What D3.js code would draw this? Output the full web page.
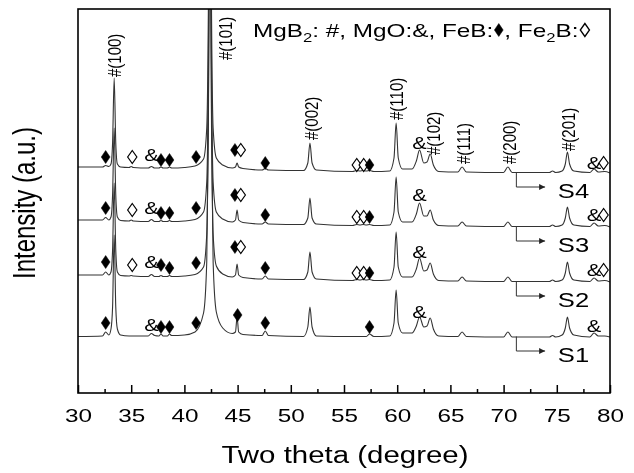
<!DOCTYPE html>
<html>
<head>
<meta charset="utf-8">
<script src="https://cdn.jsdelivr.net/npm/d3@7"></script>
<style>
body { margin: 0; background: #fff; }
text { font-family: "Liberation Sans", Arial, sans-serif; fill: #000; }
svg { filter: grayscale(100%); }
</style>
</head>
<body>
<script>

var width = 634;
var height = 473;
var sx = 1.28; // the lettering in the original is stretched sideways

// 2theta grid (degree) shared by the four patterns
var twoTheta = [30.0, 32.3, 32.6, 32.9, 33.1, 33.25, 33.4, 33.55, 33.7, 34.0,
  34.8, 35.0, 35.2, 36.6, 36.9, 37.2, 37.6, 37.8, 38.0, 38.4,
  38.6, 38.8, 40.0, 41.0, 41.8, 42.1, 42.25, 42.4, 42.55, 42.7,
  43.0, 43.6, 44.5, 44.8, 44.95, 45.1, 45.5, 47.3, 47.6, 47.9,
  51.2, 51.6, 51.8, 52.0, 52.4, 55.8, 56.2, 56.5, 56.8, 57.1,
  57.4, 57.8, 59.3, 59.7, 59.9, 60.1, 60.5, 61.4, 61.8, 62.1,
  62.5, 62.8, 63.1, 63.4, 63.9, 65.7, 66.1, 66.5, 70.0, 70.4,
  70.8, 74.3, 74.6, 74.9, 75.5, 75.8, 76.0, 76.2, 76.6, 78.1,
  78.5, 78.9, 79.5, 80.0];

// intensity (a.u.) of each pattern above its own base level
var intensityS1 = [0.5, 1, 5, 2, 8, 30, 102, 30, 8, 2,
  1, 1, 1, 1, 3.5, 1.5, 1, 3, 1, 1,
  3, 1.5, 2, 5, 24, 75, 210, 450, 210, 75,
  25, 9, 3.5, 5, 20, 5, 2.5, 1.5, 6, 1.5,
  0.5, 10, 30, 10, 1, 0.5, 0.5, 0.5, 0.5, 0.5,
  3, 0.5, 1, 14, 47, 14, 4, 4, 11, 20,
  10, 11, 19, 8, 1, 0.5, 5, 0.5, 0, 5,
  0, 0, 1.5, 0, 2, 9, 20, 9, 2, 0,
  4, 1, 1, 0];
var intensityS2 = [7, 7, 10, 7, 10, 32, 99, 32, 10, 6.5,
  6, 6.5, 6, 5.5, 7.5, 5.5, 5.5, 6.5, 5.5, 5.5,
  6.5, 5.5, 6, 7.5, 15, 48, 170, 450, 170, 48,
  16, 8, 5, 7, 18, 7, 4.5, 3, 6, 3,
  2.5, 10, 30, 10, 3, 1.5, 2.5, 2, 2.5, 2,
  2.5, 1.5, 2, 15, 50, 15, 5, 5, 13, 24,
  11, 12, 19, 8, 1.5, 1, 5, 1, 0.5, 5,
  0.5, 0.5, 2, 0.5, 2, 9, 20, 9, 2, 0.5,
  4, 1, 1.5, 0];
var intensityS3 = [7, 7, 9.5, 7, 10, 32, 99, 32, 10, 6.5,
  6, 7, 6, 5.5, 7.5, 5.5, 5.5, 6.5, 5.5, 5.5,
  6.5, 5.5, 6, 7.5, 15, 45, 160, 450, 160, 45,
  15, 8, 5, 7, 17, 7, 4.5, 3, 5, 3,
  2.5, 9, 29, 9, 3, 1.5, 2.5, 2, 2.5, 2,
  2.5, 1.5, 2, 15, 50, 15, 5, 5, 13, 24,
  11, 11, 17, 7, 1.5, 1, 5, 1, 0.5, 5,
  0.5, 0.5, 2, 0.5, 2, 9, 20, 9, 2, 0.5,
  4, 1, 1.5, 0];
var intensityS4 = [6, 6, 7.5, 6.5, 9, 30, 95, 30, 9, 6,
  5.5, 6.5, 5.5, 5, 6.5, 5, 5, 6, 5, 5,
  6, 5, 5.5, 7, 14, 45, 160, 450, 160, 45,
  15, 8, 5, 6, 10, 6, 4.5, 3, 4.5, 3,
  2.5, 10, 30, 10, 3, 1.5, 2.5, 2, 2.5, 2,
  2.5, 1.5, 2, 15, 50, 15, 4, 4, 12, 23,
  10, 11, 19, 8, 1.5, 1, 6, 1, 0.5, 6,
  0.5, 0.5, 2, 0.5, 2, 9, 21, 9, 2, 0.5,
  4, 1, 1.5, 0];

var sampleNames = ["S1", "S2", "S3", "S4"];
var offsets = [56, 111, 166, 220]; // stacking offsets
var patterns = [intensityS1, intensityS2, intensityS3, intensityS4];

// phase marks: [2theta, level above base, symbol]
var marksS1 = [[32.6, 14, "♦"], [36.9, 12, "&"], [37.8, 10, "♦"], [38.6, 10, "♦"], [41.1, 14, "♦"],
  [45.0, 22, "♦"], [47.6, 14, "♦"], [57.4, 10, "♦"], [62.1, 25, "&"], [78.5, 11, "&"]];
var marksS2 = [[32.6, 20, "♦"], [35.1, 17, "◊"], [36.9, 20, "&"], [37.8, 17, "♦"], [38.6, 14, "♦"],
  [41.1, 19, "♦"], [44.75, 35, "♦"], [45.3, 35, "◊"], [47.6, 14, "♦"], [56.2, 9, "◊"],
  [56.85, 9, "◊"], [57.4, 9, "♦"], [62.1, 30, "&"], [78.5, 12, "&"], [79.4, 12, "◊"]];
var marksS3 = [[32.6, 19, "♦"], [35.1, 17, "◊"], [36.9, 19, "&"], [37.8, 14, "♦"], [38.6, 14, "♦"],
  [41.1, 19, "♦"], [44.75, 32, "♦"], [45.3, 32, "◊"], [47.6, 12, "♦"], [56.2, 10, "◊"],
  [56.85, 10, "◊"], [57.4, 10, "♦"], [62.1, 32, "&"], [78.5, 12, "&"], [79.4, 12, "◊"]];
var marksS4 = [[32.6, 16, "♦"], [35.1, 16, "◊"], [36.9, 18, "&"], [37.8, 13, "♦"], [38.6, 13, "♦"],
  [41.1, 16, "♦"], [44.75, 23, "♦"], [45.3, 23, "◊"], [47.6, 10, "♦"], [56.2, 8, "◊"],
  [56.85, 8, "◊"], [57.4, 8, "♦"], [62.1, 30, "&"], [78.5, 10, "&"], [79.4, 10, "◊"]];
var marks = [marksS1, marksS2, marksS3, marksS4];

// MgB2 reflections labelled on the top pattern: [2theta, level above S4 base, label]
var hklLabels = [[33.4, 96, "#(100)"], [43.8, 113, "#(101)"], [51.9, 33, "#(002)"], [59.95, 53, "#(110)"],
  [63.35, 18, "#(102)"], [66.2, 9, "#(111)"], [70.5, 9, "#(200)"], [76.1, 22, "#(201)"]];

var xTicks = [30, 35, 40, 45, 50, 55, 60, 65, 70, 75, 80];
var xMinorTicks = [32.5, 37.5, 42.5, 47.5, 52.5, 57.5, 62.5, 67.5, 72.5, 77.5];

var svg = d3.select("body").append("svg")
  .attr("width", width)
  .attr("height", height);

var x = d3.scaleLinear().domain([30, 80]).range([78, 610]);
var y = d3.scaleLinear().domain([0, 384]).range([393, 9]);

// diamond outlines used for FeB (filled) and Fe2B (open)
var fullDiamond = "M0,-6.5L4.4,0L0,6.5L-4.4,0Z";
var openDiamond = "M0,-6.5L4.6,0L0,6.5L-4.6,0Z";

var defs = svg.append("defs");
defs.append("clipPath").attr("id", "plot")
  .append("rect")
  .attr("x", x(30)).attr("y", y(384))
  .attr("width", x(80) - x(30)).attr("height", y(0) - y(384));
defs.append("marker")
  .attr("id", "arrow")
  .attr("viewBox", "0 0 10 10")
  .attr("refX", 10).attr("refY", 5)
  .attr("markerWidth", 10).attr("markerHeight", 6)
  .attr("markerUnits", "userSpaceOnUse")
  .attr("orient", "auto")
  .append("path").attr("d", "M0,0L10,5L0,10Z").attr("fill", "#222");

// patterns
var line = d3.line().curve(d3.curveMonotoneX);
patterns.forEach(function(p, i) {
  var pts = twoTheta.map(function(t, j) { return [x(t), y(offsets[i] + p[j])]; });
  svg.append("path")
    .attr("d", line(pts))
    .attr("clip-path", "url(#plot)")
    .attr("fill", "none")
    .attr("stroke", "#333")
    .attr("stroke-width", 1.1);
});

// phase marks
marks.forEach(function(m, i) {
  var g = svg.append("g");
  g.selectAll("path")
    .data(m.filter(function(d) { return d[2] != "&"; }))
    .enter().append("path")
    .attr("transform", function(d) { return "translate(" + x(d[0]) + "," + y(offsets[i] + d[1]) + ")"; })
    .attr("d", function(d) { return d[2] == "♦" ? fullDiamond : openDiamond; })
    .attr("fill", function(d) { return d[2] == "♦" ? "#000" : "#fff"; })
    .attr("stroke", "#000")
    .attr("stroke-width", function(d) { return d[2] == "♦" ? 0.5 : 1.2; });
  g.selectAll("text")
    .data(m.filter(function(d) { return d[2] == "&"; }))
    .enter().append("text")
    .attr("transform", function(d) { return "translate(" + x(d[0]) + "," + y(offsets[i] + d[1]) + ") scale(" + sx + ",1)"; })
    .attr("text-anchor", "middle")
    .attr("dy", "0.35em")
    .attr("font-size", 17)
    .text(function(d) { return d[2]; });
});

// hkl labels
svg.append("g").selectAll("text")
  .data(hklLabels)
  .enter().append("text")
  .attr("transform", function(d) { return "translate(" + x(d[0]) + "," + y(offsets[3] + d[1]) + ") scale(" + sx + ",1) rotate(-90)"; })
  .attr("text-anchor", "start")
  .attr("dy", "0.35em")
  .attr("font-size", 15)
  .text(function(d) { return d[2]; });

// sample arrows and names
sampleNames.forEach(function(name, i) {
  var base = offsets[i];
  svg.append("path")
    .attr("d", "M" + x(71.2) + "," + y(base + 0.5) + "V" + y(base - 14) + "H" + x(73.9))
    .attr("fill", "none")
    .attr("stroke", "#333")
    .attr("stroke-width", 1)
    .attr("marker-end", "url(#arrow)");
  svg.append("text")
    .attr("transform", "translate(" + x(75.1) + "," + y(base - 18) + ") scale(" + sx + ",1)")
    .attr("dy", "0.35em")
    .attr("font-size", 20)
    .text(name);
});

// axes
var xAxis = d3.axisBottom(x).tickValues(xTicks).tickSizeInner(-8).tickSizeOuter(0).tickPadding(16);
var gx = svg.append("g").attr("transform", "translate(0," + y(0) + ")").call(xAxis);
gx.select(".domain").remove();
gx.selectAll("line").attr("stroke", "#000").attr("stroke-width", 1.5);
gx.selectAll("text")
  .attr("font-size", 19)
  .attr("transform", "scale(" + sx + ",1)");

var xMinor = d3.axisBottom(x).tickValues(xMinorTicks).tickSizeInner(-4).tickSizeOuter(0).tickFormat("");
var gm = svg.append("g").attr("transform", "translate(0," + y(0) + ")").call(xMinor);
gm.select(".domain").remove();
gm.selectAll("line").attr("stroke", "#000").attr("stroke-width", 1.5);

svg.append("rect")
  .attr("x", x(30)).attr("y", y(384))
  .attr("width", x(80) - x(30)).attr("height", y(0) - y(384))
  .attr("fill", "none")
  .attr("stroke", "#000")
  .attr("stroke-width", 1.6);

svg.append("text")
  .attr("transform", "translate(345,463) scale(" + sx + ",1)")
  .attr("text-anchor", "middle")
  .attr("font-size", 23)
  .text("Two theta (degree)");

svg.append("text")
  .attr("transform", "translate(24,203) scale(" + sx + ",1) rotate(-90)")
  .attr("text-anchor", "middle")
  .attr("dy", "0.35em")
  .attr("font-size", 24)
  .text("Intensity (a.u.)");

// legend of phases: text pieces followed by the diamond marks
var legendX = 253, legendY = 37;
function legendText(x0, parts) {
  var t = svg.append("text")
    .attr("transform", "translate(" + x0 + "," + legendY + ") scale(" + sx + ",1)")
    .attr("font-size", 19);
  parts.forEach(function(p) {
    if (p.sub) {
      t.append("tspan").attr("font-size", 13).attr("dy", 5).text(p.sub);
    } else {
      t.append("tspan").attr("dy", p.after ? -5 : 0).text(p.text);
    }
  });
  return x0 + t.node().getComputedTextLength() * sx;
}
var lx = legendText(legendX, [{text: "MgB"}, {sub: "2"}, {text: ": #, MgO:&, FeB:", after: true}]);
svg.append("path").attr("transform", "translate(" + (lx + 5.5) + "," + (legendY - 7) + ")")
  .attr("d", fullDiamond).attr("fill", "#000").attr("stroke", "#000").attr("stroke-width", 0.5);
lx = legendText(lx + 11, [{text: ", Fe"}, {sub: "2"}, {text: "B:", after: true}]);
svg.append("path").attr("transform", "translate(" + (lx + 6.5) + "," + (legendY - 7) + ")")
  .attr("d", openDiamond).attr("fill", "#fff").attr("stroke", "#000").attr("stroke-width", 1.3);

</script>
</body>
</html>
